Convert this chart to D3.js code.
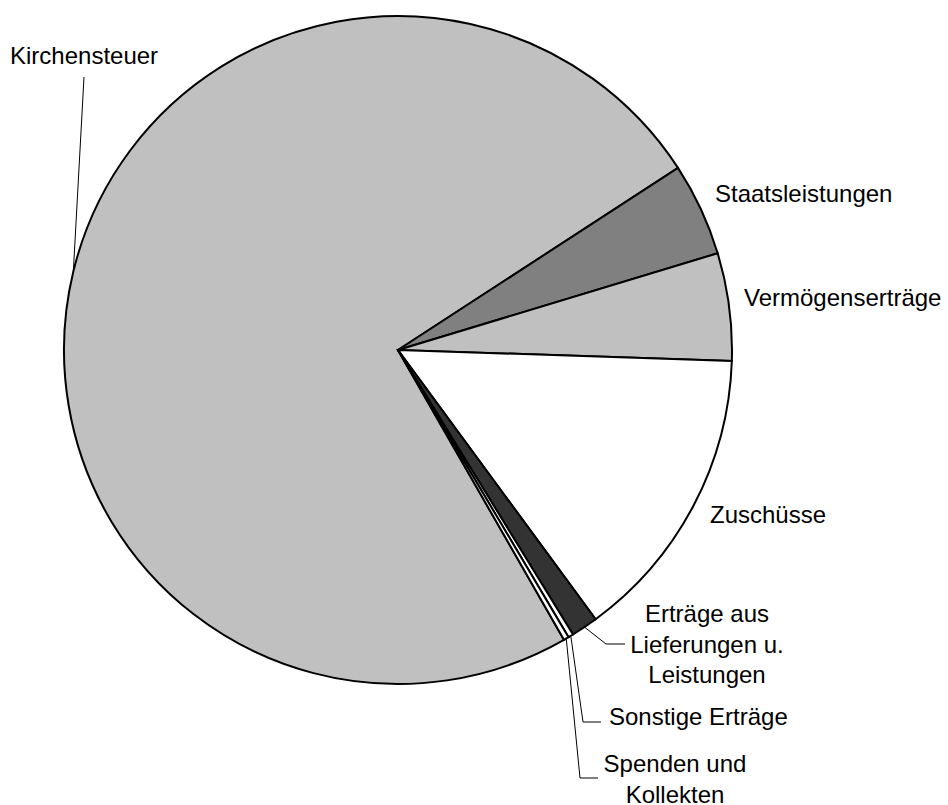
<!DOCTYPE html>
<html>
<head>
<meta charset="utf-8">
<script src="https://cdn.jsdelivr.net/npm/d3@7"></script>
<style>
  body { margin: 0; background: #fff; }
  svg text { font-family: "Liberation Sans", Arial, sans-serif; font-size: 24px; fill: #000; }
</style>
</head>
<body>
<div id="pie_chart"></div>
<script>
// categories and shares (percent), clockwise from Kirchensteuer
var categories = ["Kirchensteuer", "Staatsleistungen", "Vermögenserträge", "Zuschüsse",
  "Erträge aus Lieferungen u. Leistungen", "Sonstige Erträge", "Spenden und Kollekten"];
var shares = [74.1, 4.5, 5.2, 14.4, 1.3, 0.25, 0.25];
var label_lines = [["Kirchensteuer"], ["Staatsleistungen"], ["Vermögenserträge"], ["Zuschüsse"],
  ["Erträge aus", "Lieferungen u.", "Leistungen"], ["Sonstige Erträge"], ["Spenden und", "Kollekten"]];

//setup
var chart_width = 948;
var chart_height = 805;
var cx = 398, cy = 350, radius = 334;
var start_deg = 150.2;

var fills = ["#c0c0c0", "#808080", "#c0c0c0", "#ffffff", "#333333", "#ffffff", "#ffffff"];

// label placement: x, first baseline, anchor, leader elbow / end (null = no leader)
var label_layout = [
  {x: 10, y: 64, anchor: "start", leader: [[84, 77]]},
  {x: 715, y: 202, anchor: "start", leader: null},
  {x: 744, y: 306, anchor: "start", leader: null},
  {x: 710, y: 523, anchor: "start", leader: null},
  {x: 707, y: 622, anchor: "middle", leader: [[606, 644], [625, 644]]},
  {x: 609, y: 725, anchor: "start", leader: [[583, 722], [601, 722]]},
  {x: 675, y: 772, anchor: "middle", leader: [[580, 778], [598, 778]]}
];

var svg = d3.select('#pie_chart')
  .append('svg')
  .attr('width', chart_width)
  .attr('height', chart_height);

var pie = d3.pie()
  .sort(null)
  .value(function(d){ return d; })
  .startAngle(start_deg * Math.PI / 180)
  .endAngle(start_deg * Math.PI / 180 + 2 * Math.PI);

var arc = d3.arc().innerRadius(0).outerRadius(radius);

var arcs = pie(shares);

var g = svg.append('g').attr('transform', 'translate(' + cx + ',' + cy + ')');

g.selectAll('path')
  .data(arcs)
  .enter()
  .append('path')
  .attr('d', arc)
  .attr('fill', function(d, i){ return fills[i]; })
  .attr('stroke', '#000')
  .attr('stroke-width', 2)
  .attr('stroke-linejoin', 'miter');

// leader lines start on the rim at each slice's mid angle
var line = d3.line();
arcs.forEach(function(d, i){
  var lay = label_layout[i];
  if (!lay.leader) return;
  var mid = (d.startAngle + d.endAngle) / 2;
  var p0 = [cx + radius * Math.sin(mid), cy - radius * Math.cos(mid)];
  svg.append('path')
    .attr('d', line([p0].concat(lay.leader)))
    .attr('fill', 'none')
    .attr('stroke', '#000')
    .attr('stroke-width', 1);
});

//labels
categories.forEach(function(c, i){
  var lay = label_layout[i];
  var t = svg.append('text')
    .attr('x', lay.x)
    .attr('y', lay.y)
    .attr('text-anchor', lay.anchor);
  label_lines[i].forEach(function(s, j){
    t.append('tspan')
      .attr('x', lay.x)
      .attr('dy', j === 0 ? 0 : 30.5)
      .text(s);
  });
});
</script>
</body>
</html>
